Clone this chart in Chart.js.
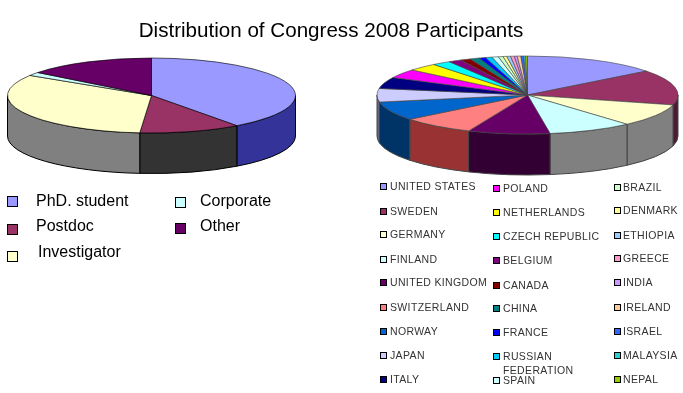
<!DOCTYPE html>
<html><head><meta charset="utf-8">
<script src="https://cdn.jsdelivr.net/npm/chart.js@4"></script>
<style>
html,body{margin:0;padding:0;background:#fff;width:683px;height:393px;overflow:hidden;font-family:"Liberation Sans",Arial,sans-serif;color:#000}
canvas{position:absolute;top:0}
#title{position:absolute;left:0;top:18px;width:662px;text-align:center;font-size:20.6px;line-height:24px;white-space:nowrap}
.t{position:absolute;white-space:nowrap;transform:translateY(-50%)}
.sw{position:absolute;box-sizing:border-box;border:1px solid #000}
.l{font-size:16px;line-height:18px}
.r{font-size:10.5px;line-height:12px;letter-spacing:0.35px;color:#333}
</style></head><body>
<canvas id="a" width="303" height="393" style="left:0"></canvas>
<canvas id="b" width="311" height="393" style="left:372px"></canvas>
<div id="title">Distribution of Congress 2008 Participants</div>
<div id="lg"></div>
<script>
const roles=["PhD. student","Postdoc","Investigator","Corporate","Other"];
const roleValues=[39.9,11.4,32.7,1.5,14.5];
const roleColors=["#9999FF","#993366","#FFFFCC","#CCFFFF","#660066"];
const roleSides=["#333399","#333333","#808080","#808080","#330033"];
const countries=["UNITED STATES","SWEDEN","GERMANY","FINLAND","UNITED KINGDOM","SWITZERLAND","NORWAY","JAPAN","ITALY","POLAND","NETHERLANDS","CZECH REPUBLIC","BELGIUM","CANADA","CHINA","FRANCE","RUSSIAN FEDERATION","SPAIN","BRAZIL","DENMARK","ETHIOPIA","GREECE","INDIA","IRELAND","ISRAEL","MALAYSIA","NEPAL"];
const countryValues=[14.5,14.6,9.4,9.1,8.8,7.9,7.8,5.6,4.7,3.7,3.2,2.0,1.4,1.1,1.0,0.7,0.7,0.7,0.5,0.4,0.4,0.4,0.3,0.4,0.3,0.2,0.2];
const countryColors=["#9999FF","#993366","#FFFFCC","#CCFFFF","#660066","#FF8080","#0066CC","#CCCCFF","#000080","#FF00FF","#FFFF00","#00FFFF","#800080","#800000","#008080","#0000FF","#00CCFF","#CCFFFF","#CCFFCC","#FFFF99","#99CCFF","#FF99CC","#CC99FF","#FFCC99","#3366FF","#33CCCC","#99CC00"];
const countrySides=["#333366","#4D1A33","#808080","#808080","#330033","#993333","#003366","#666680","#000040","#800080","#808000","#008080","#400040","#400000","#004040","#000080","#006680","#668080","#668066","#808050","#4D6680","#804D66","#664D80","#806650","#1A3380","#1A6666","#4D6600"];

const pie3d={id:'pie3d',
  beforeDatasetsDraw(chart,args,o){
    const ctx=chart.ctx,meta=chart.getDatasetMeta(0);
    const arcs=meta.data;
    const c=arcs[0].getProps(['x','y','outerRadius']);
    const rx=c.outerRadius,ry=o.ry;
    ctx.save();
    ctx.lineWidth=1;
    arcs.forEach((arc,i)=>{
      const p=arc.getProps(['startAngle','endAngle']);
      const tw=Math.PI*2;
      [0,tw].forEach(sh=>{
        const a1=Math.max(p.startAngle,sh),a2=Math.min(p.endAngle,sh+Math.PI);
        if(a2<=a1)return;
        ctx.beginPath();
        ctx.ellipse(c.x,o.ty,rx,ry,0,a1,a2);
        ctx.ellipse(c.x,o.ty+o.depth,rx,ry,0,a2,a1,true);
        ctx.closePath();
        ctx.fillStyle=o.sides[i];ctx.fill();
        ctx.strokeStyle=o.edge;ctx.stroke();
      });
    });
    ctx.restore();
    ctx.save();
    ctx.translate(c.x,o.ty);ctx.scale(1,ry/rx);ctx.translate(-c.x,-c.y);
  },
  afterDatasetsDraw(chart){chart.ctx.restore();}
};
function mk(id,labels,vals,cols,sides,radius,ty,ry,depth,edge,bw){
  return new Chart(document.getElementById(id),{type:'pie',
    data:{labels,datasets:[{data:vals,backgroundColor:cols,borderColor:edge,borderWidth:bw,borderAlign:'center'}]},
    options:{responsive:false,animation:false,radius,events:[],
      layout:{padding:0},
      plugins:{legend:{display:false},tooltip:{enabled:false},pie3d:{ty,ry,depth,sides,edge}}},
    plugins:[pie3d]});
}
mk('a',roles,roleValues,roleColors,roleSides,144,95.5,37.5,40.5,'#000',1);
mk('b',countries,countryValues,countryColors,countrySides,150.5,95,39,41,'#444',1);

const lg=document.getElementById('lg');
function sw(x,y,s,c){const d=document.createElement('div');d.className='sw';d.style.cssText=`left:${x}px;top:${y-s/2}px;width:${s}px;height:${s}px;background:${c}`;lg.appendChild(d);}
function tx(x,y,t,cl){const d=document.createElement('div');d.className='t '+cl;d.style.left=x+'px';d.style.top=y+'px';d.textContent=t;lg.appendChild(d);}
const roleSpots=[[7,201,36,201],[7,229,36,226],[7,256,38,252],[175,202,200,201],[175,228,200,226]];
roles.forEach((t,i)=>{const s=roleSpots[i];sw(s[0],s[1],11,roleColors[i]);tx(s[2],s[3],t,'l');});
const ys=[[186,211,234,259,282,307,331,355,379],[188,212,236,260,285,308,332,356,380],[187,210,235,258,282,307,331,355,379]];
const xs=[[380,390],[493,503],[614,623]];
countries.forEach((t,i)=>{
  const col=Math.floor(i/9),row=i%9,y=ys[col][row];
  sw(xs[col][0],y,7,countryColors[i]);
  if(t==="RUSSIAN FEDERATION"){tx(xs[col][1],y,"RUSSIAN",'r');tx(xs[col][1],370,"FEDERATION",'r');}
  else tx(xs[col][1],y,t,'r');
});
</script></body></html>
